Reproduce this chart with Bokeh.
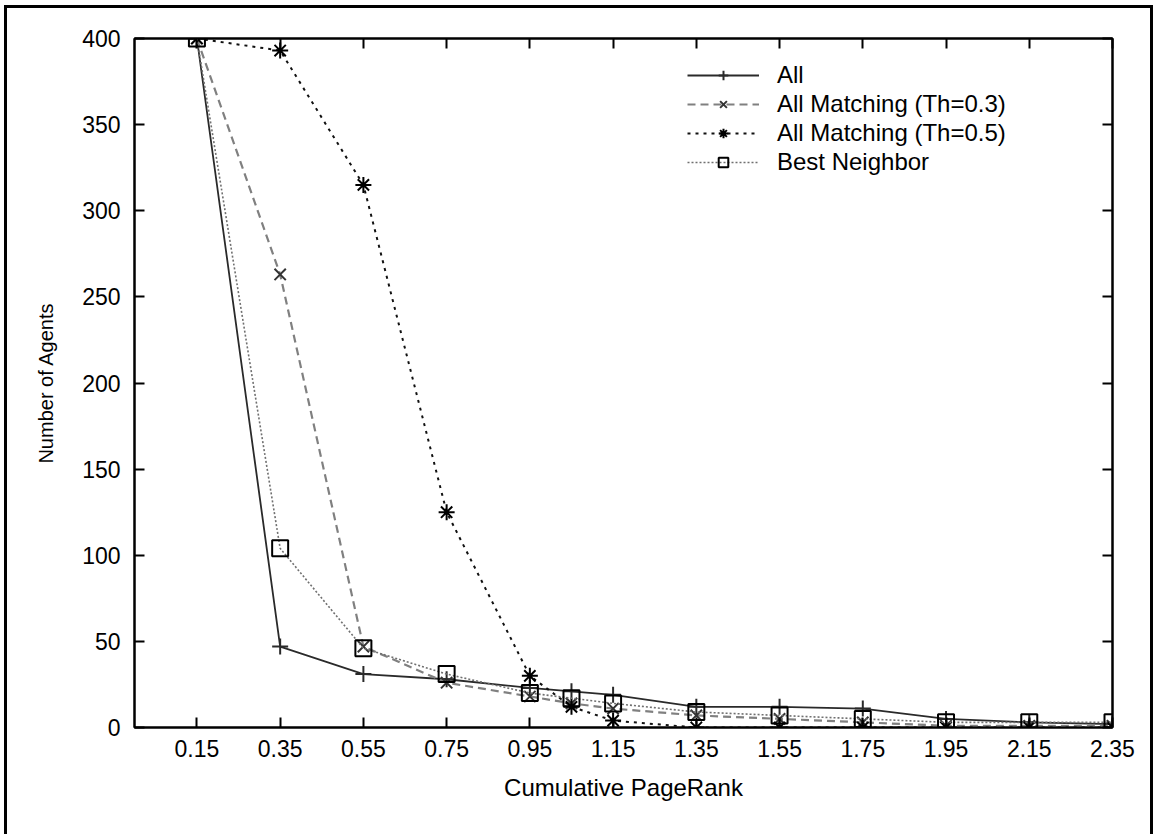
from bokeh.plotting import figure
from bokeh.models import LinearAxis, FixedTicker, Legend, LegendItem, Range1d
from bokeh.embed import file_html
from bokeh.resources import INLINE

# ---- data ----
pagerank = [0.15, 0.35, 0.55, 0.75, 0.95, 1.05, 1.15, 1.35, 1.55, 1.75, 1.95, 2.15, 2.35]
all_agents = [400, 47, 31, 28, 23, 21, 19, 12, 12, 11, 5, 3, 2]
match_th03 = [400, 263, 47, 26, 18, 14, 11, 7, 5, 3, 1, 1, 1]
match_th05 = [400, 393, 315, 125, 30, 12, 4, 0, 0, 0, 0, 0, 0]
best_neighbor = [400, 104, 46, 31, 20, 17, 14, 9, 7, 5, 3, 3, 3]

x_ticks = [0.15, 0.35, 0.55, 0.75, 0.95, 1.15, 1.35, 1.55, 1.75, 1.95, 2.15, 2.35]
y_ticks = [0, 50, 100, 150, 200, 250, 300, 350, 400]

FONT = "Liberation Sans"

p = figure(width=1156, height=834, output_backend="svg", toolbar_location=None,
           x_range=Range1d(0, 2.35), y_range=Range1d(0, 400),
           min_border_left=134, min_border_right=44, min_border_top=38, min_border_bottom=107)
p.border_fill_color = None
p.background_fill_color = "white"
p.outline_line_color = "black"
p.outline_line_width = 2
p.grid.visible = False

p.styles = {
    "background-color": "white",
    "box-shadow": "inset 4px 5px 0 0 white, inset -3px 0 0 0 white, "
                  "inset 7px 8px 0 0 black, inset -6px 0 0 0 black",
}

def style_axis(ax, ticks, show_labels=True):
    ax.axis_line_color = "black"
    ax.axis_line_width = 2
    ax.major_tick_in = 10
    ax.major_tick_out = 0
    ax.major_tick_line_width = 2
    ax.minor_tick_line_color = None
    ax.major_label_text_font = FONT
    ax.major_label_text_color = "black"
    ax.major_label_text_font_size = "23px"
    if not show_labels:
        ax.major_label_overrides = {t: "" for t in ticks}
        ax.major_label_standoff = 0

xa = p.xaxis[0]
xa.ticker = FixedTicker(ticks=x_ticks)
style_axis(xa, x_ticks)
xa.major_label_standoff = 12
xa.axis_label = "Cumulative PageRank"
xa.axis_label_text_font = FONT
xa.axis_label_text_font_size = "24px"
xa.axis_label_text_font_style = "normal"
xa.axis_label_text_color = "black"
xa.axis_label_standoff = 14

ya = p.yaxis[0]
ya.ticker = FixedTicker(ticks=y_ticks)
style_axis(ya, y_ticks)
ya.major_label_standoff = 14
ya.axis_label = "Number of Agents"
ya.axis_label_text_font = FONT
ya.axis_label_text_font_size = "20px"
ya.axis_label_text_font_style = "normal"
ya.axis_label_text_color = "black"
ya.axis_label_standoff = 22

top = LinearAxis(ticker=FixedTicker(ticks=x_ticks))
style_axis(top, x_ticks, show_labels=False)
p.add_layout(top, "above")
right = LinearAxis(ticker=FixedTicker(ticks=y_ticks))
style_axis(right, y_ticks, show_labels=False)
p.add_layout(right, "right")

items = []
series = [
    ("All", all_agents, "#2a2a2a", "solid", 1.8, "cross", "#2a2a2a"),
    ("All Matching (Th=0.3)", match_th03, "#808080", "8 5", 2.2, "x", "#333333"),
    ("All Matching (Th=0.5)", match_th05, "#111111", "3 5", 2.0, "asterisk", "#000000"),
    ("Best Neighbor", best_neighbor, "#707070", "2 2", 1.6, "square", "#000000"),
]
for label, ys, lc, dash, lw, marker, mc in series:
    lr = p.line(pagerank, ys, line_color=lc, line_dash=dash, line_width=lw)
    sr = p.scatter(pagerank, ys, marker=marker, size=16, fill_color=None,
                   line_color=mc, line_width=2)
    items.append(LegendItem(label=label, renderers=[lr, sr]))

legend = Legend(items=items, location=(553, 551))
legend.background_fill_alpha = 0
legend.border_line_color = None
legend.padding = 0
legend.margin = 0
legend.spacing = 1
legend.glyph_width = 72
legend.glyph_height = 24
legend.label_height = 24
legend.label_standoff = 18
legend.label_text_font = FONT
legend.label_text_font_size = "24px"
legend.label_text_color = "black"
p.add_layout(legend, "center")

open("out.html", "w").write(file_html(p, INLINE))
